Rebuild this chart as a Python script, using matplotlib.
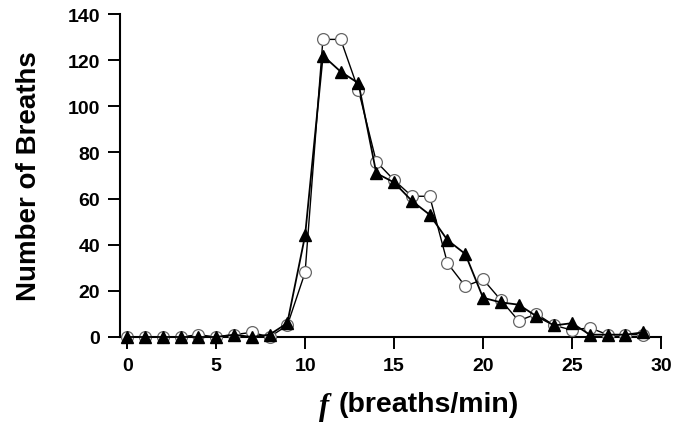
import matplotlib
matplotlib.use("Agg")
import matplotlib.pyplot as plt

freq = list(range(0, 30))
circles = [0, 0, 0, 0, 1, 0, 1, 2, 0, 5, 28, 129, 129, 107, 76, 68, 61, 61, 32, 22,
           25, 16, 7, 10, 5, 3, 4, 1, 1, 1]
triangles = [0, 0, 0, 0, 0, 0, 1, 0, 1, 6, 44, 122, 115, 110, 71, 67, 59, 53, 42, 36,
             17, 15, 14, 9, 5, 6, 1, 1, 1, 2]
xticks = [0, 5, 10, 15, 20, 25, 30]
yticks = [0, 20, 40, 60, 80, 100, 120, 140]

plt.rcParams['font.family'] = ['Liberation Sans', 'DejaVu Sans']

fig = plt.figure(figsize=(6.91, 4.39), dpi=100)
ax = fig.add_axes([0.1737, 0.2301, 0.9566 - 0.1737, 0.9658 - 0.2301])

ax.plot(freq, circles, color='black', lw=1.0, marker='o', markersize=8.5,
        markerfacecolor='white', markeredgecolor='#666666', markeredgewidth=0.9,
        clip_on=False, zorder=3)
ax.plot(freq, triangles, color='black', lw=1.3, marker='^', markersize=8.5,
        markerfacecolor='black', markeredgecolor='black',
        clip_on=False, zorder=4)

ax.set_xlim(-0.4, 30)
ax.set_ylim(0, 140)
ax.set_xticks(xticks)
ax.set_yticks(yticks)
ax.spines['top'].set_visible(False)
ax.spines['right'].set_visible(False)
for s in ['left', 'bottom']:
    ax.spines[s].set_linewidth(1.5)
ax.tick_params(axis='both', length=8.5, width=1.4, labelsize=14, pad=6)
for lab in ax.get_xticklabels() + ax.get_yticklabels():
    lab.set_fontweight('bold')

ax.set_ylabel('Number of Breaths', fontsize=20, fontweight='bold', labelpad=18)
fig.text(339 / 691, 0.077, '(breaths/min)', fontsize=20.5, fontweight='bold',
         ha='left', va='center')
fig.text(324 / 691, 0.072, 'f', fontsize=22, fontweight='bold', style='italic',
         ha='center', va='center', family='Liberation Serif')

fig.savefig('out.png', dpi=100)
